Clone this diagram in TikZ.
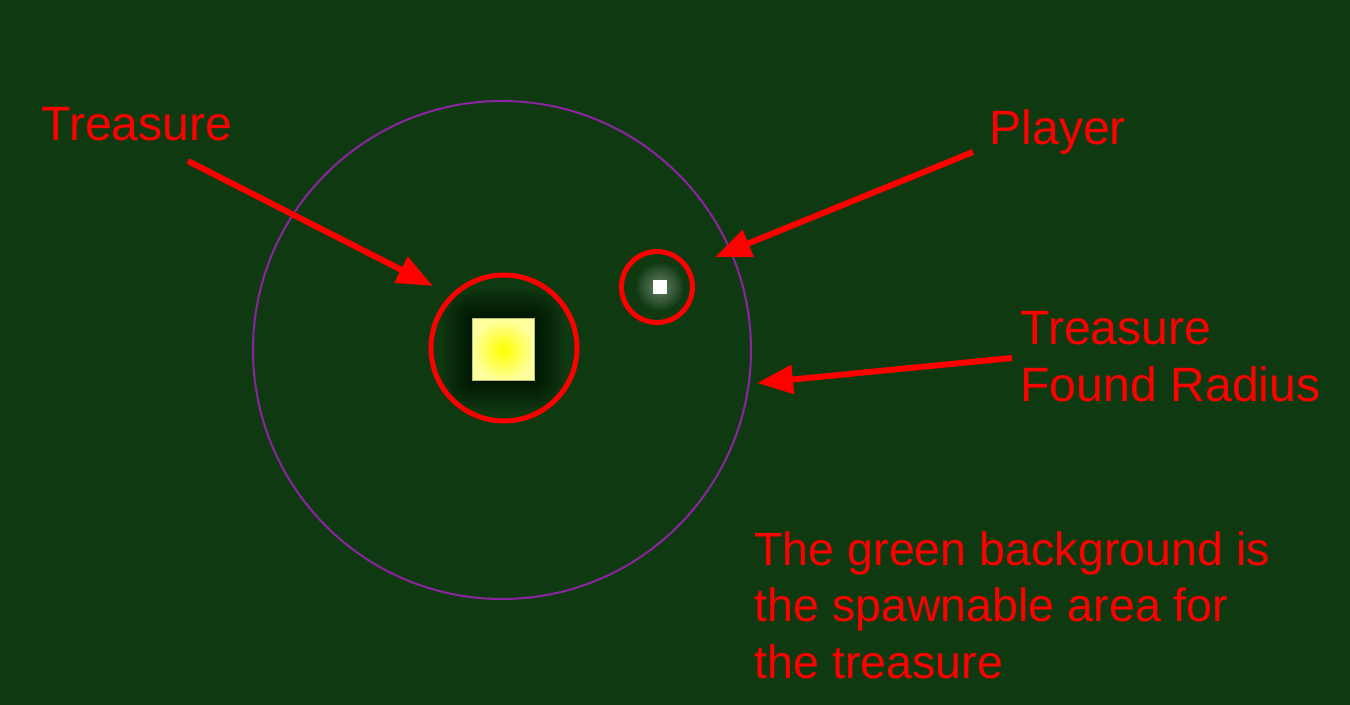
\documentclass[tikz,border=0pt]{standalone}
\usepackage{fontspec}
\setmainfont{Liberation Sans}
\usetikzlibrary{arrows.meta}
\definecolor{bg}{RGB}{15,58,17}
\definecolor{ringpurple}{RGB}{140,35,160}
\definecolor{paleyellow}{RGB}{255,255,160}
\definecolor{sqedge}{RGB}{190,190,120}
\begin{document}
\begin{tikzpicture}[x=0.5pt,y=-0.5pt,
  lbl/.style={text=red, font=\fontsize{24.1}{28.5}\selectfont, inner sep=0pt, anchor=base west, align=left},
  notelbl/.style={lbl, font=\fontsize{23.3}{28.25}\selectfont},
  pointer/.style={draw=red, line width=3pt, -{Triangle[length=18pt,width=14pt]}},
  ring/.style={circle, draw=red, line width=2.5pt, inner sep=0pt},
]
\fill[bg] (0,0) rectangle (1350,705);
\useasboundingbox (0,0) rectangle (1350,705);

% spawn radius circle
\node[circle, draw=ringpurple, line width=1pt, minimum size=249pt, inner sep=0pt] (radius) at (502,350) {};

% shadow around the treasure
\foreach \r in {1,...,15}{
  \fill[black, opacity=0.045, rounded corners={\r*1pt}] (472-2*\r,319-2*\r) rectangle (534+2*\r,381+2*\r);
}
% treasure square
\node[draw=sqedge, line width=0.5pt, minimum size=31pt, inner sep=0pt, inner color=yellow, outer color=paleyellow] (treasure) at (503,350) {};
\node[ring, minimum size=73pt] (treasurering) at (504,348) {};

% glow around the player
\foreach \r in {2,...,24}{
  \fill[white, opacity=0.018] (660,287) circle[radius={\r*0.5pt}];
}
\node[fill=white, minimum size=7pt, inner sep=0pt] (player) at (660,287) {};
\node[ring, minimum size=35.5pt] (playerring) at (657,287) {};

% labels (multi-line nodes are anchored at the baseline of their last line)
\node[lbl] (tlabel) at (41,141) {Treasure};
\node[lbl] (plabel) at (989,145) {Player};
\node[lbl] (rlabel) at (1020,402) {Treasure\\Found Radius};
\node[notelbl] (note) at (754,678) {The green background is\\the spawnable area for\\the treasure};

% pointers
\coordinate (tTail) at (188,161);
\coordinate (tTip) at (433,286);
\coordinate (pTail) at (973,152);
\coordinate (pTip) at (715,257);
\coordinate (rTail) at (1012,358);
\coordinate (rTip) at (757,383);
\draw[pointer] (tTail) -- (tTip);
\draw[pointer] (pTail) -- (pTip);
\draw[pointer] (rTail) -- (rTip);
\end{tikzpicture}
\end{document}
